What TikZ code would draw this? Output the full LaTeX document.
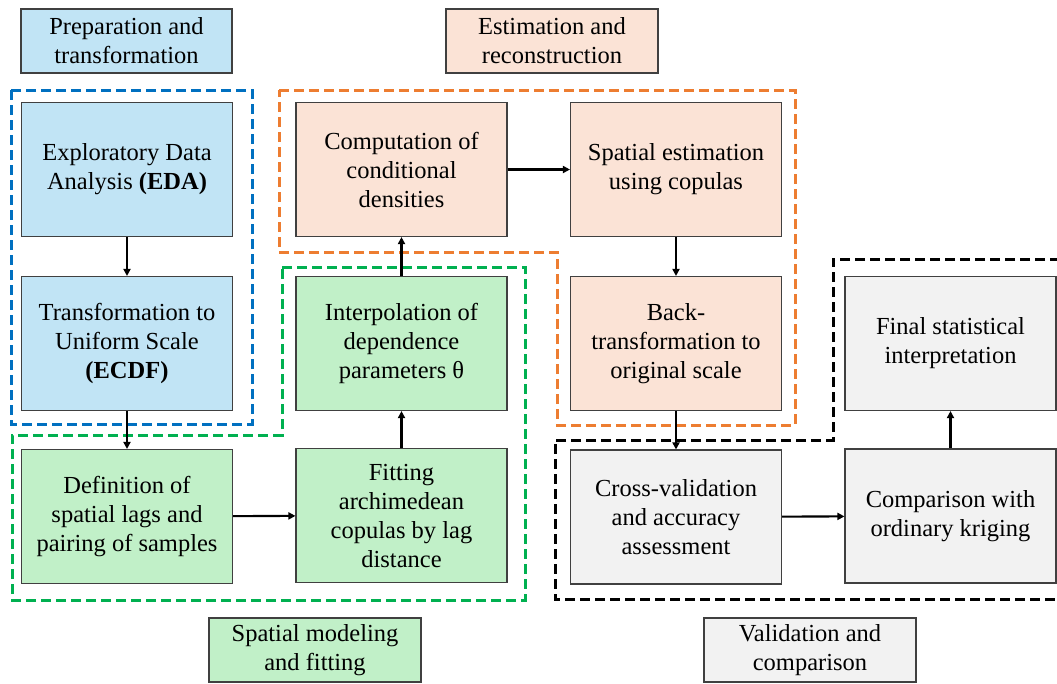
\documentclass[tikz,border=0pt]{standalone}
\usepackage{fontspec}
\setmainfont{Liberation Serif}
\usetikzlibrary{arrows.meta}
\definecolor{fblue}{HTML}{C1E4F5}
\definecolor{fpeach}{HTML}{FBE3D6}
\definecolor{fgreen}{HTML}{C1F0C8}
\definecolor{fgrey}{HTML}{F2F2F2}
\definecolor{dblue}{HTML}{0070C0}
\definecolor{dorange}{HTML}{ED7D31}
\definecolor{dgreen}{HTML}{00B050}
\definecolor{bordc}{HTML}{404040}
\tikzset{
  every node/.style={font=\fontsize{24.5}{29}\selectfont},
  box/.style={draw=bordc, line width=1.1pt, minimum width=211pt, minimum height=134pt, inner sep=0pt, align=center},
  legbox/.style={draw=bordc, line width=1.1pt, minimum width=211pt, minimum height=64pt, inner sep=0pt, align=center},
  grp/.style={line width=3pt, dash pattern=on 10pt off 5pt},
  flow/.style={line width=2.1pt, -{Triangle[length=7pt,width=7pt]}}
}
\begin{document}
\begin{tikzpicture}[x=1pt,y=-1pt]
\useasboundingbox (0,0) rectangle (1057,683);

% group outlines
\draw[grp, dblue] (11,90) rectangle (252,424);
\draw[grp, dorange] (279,90) -- (795,90) -- (795,425) -- (557,425) -- (557,252) -- (279,252) -- cycle;
\draw[grp, dgreen] (282,267) -- (525,267) -- (525,600) -- (12,600) -- (12,435) -- (282,435) -- cycle;
\draw[grp, black] (1060,259) -- (833,259) -- (833,440) -- (555,440) -- (555,599) -- (1060,599);

% legends
\node[legbox, fill=fblue, minimum width=211pt] (leg1) at (126.5,41) {Preparation and\\transformation};
\node[legbox, fill=fpeach, minimum width=212pt] (leg2) at (552,41) {Estimation and\\reconstruction};
\node[legbox, fill=fgreen, minimum width=212pt] (leg3) at (315,650) {Spatial modeling\\and fitting};
\node[legbox, fill=fgrey, minimum width=212pt] (leg4) at (810,650) {Validation and\\comparison};

% main boxes
\node[box, fill=fblue] (eda) at (127,169.5) {Exploratory Data\\Analysis \textbf{(EDA)}};
\node[box, fill=fblue] (ecdf) at (127,343.5) {Transformation to\\Uniform Scale\\\textbf{(ECDF)}};
\node[box, fill=fgreen] (def) at (127,516.5) {Definition of\\spatial lags and\\pairing of samples};
\node[box, fill=fgreen] (fit) at (401.5,515.5) {Fitting\\archimedean\\copulas by lag\\distance};
\node[box, fill=fgreen] (interp) at (401.5,343.5) {Interpolation of\\dependence\\parameters θ};
\node[box, fill=fpeach] (comp) at (401.5,169.5) {Computation of\\conditional\\densities};
\node[box, fill=fpeach] (spat) at (676,169.5) {Spatial estimation\\using copulas};
\node[box, fill=fpeach] (back) at (676,343.5) {Back-\\transformation to\\original scale};
\node[box, fill=fgrey] (cross) at (676,517) {Cross-validation\\and accuracy\\assessment};
\node[box, fill=fgrey] (final) at (950.5,343.5) {Final statistical\\interpretation};
\node[box, fill=fgrey] (compar) at (950.5,516) {Comparison with\\ordinary kriging};

% connectors
\draw[flow] (eda) -- (ecdf);
\draw[flow] (ecdf) -- (def);
\draw[flow] (def) -- (fit);
\draw[flow] (fit) -- (interp);
\draw[flow] (interp) -- (comp);
\draw[flow] (comp) -- (spat);
\draw[flow] (spat) -- (back);
\draw[flow] (back) -- (cross);
\draw[flow] (cross) -- (compar);
\draw[flow] (compar) -- (final);
\end{tikzpicture}
\end{document}
